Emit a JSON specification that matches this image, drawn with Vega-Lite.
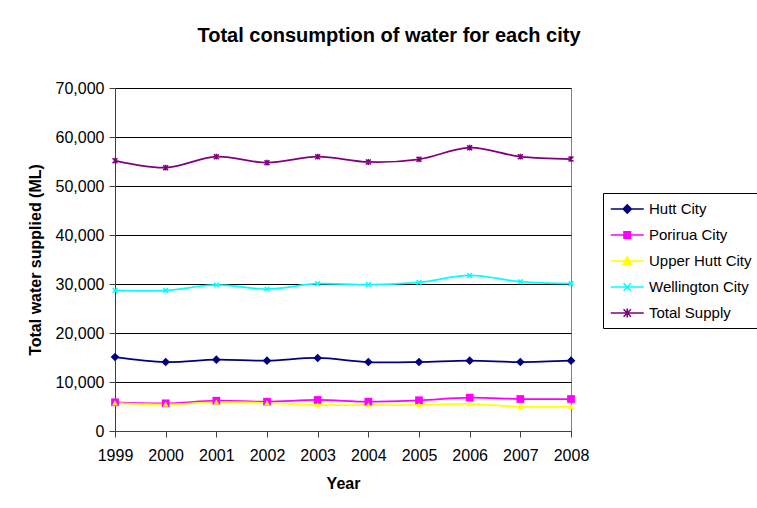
{
  "$schema": "https://vega.github.io/schema/vega-lite/v6.json",
  "width": 456,
  "height": 343,
  "autosize": {"type": "none"},
  "padding": {"left": 115, "top": 88, "right": 186, "bottom": 77},
  "background": "white",
  "title": {
    "text": "Total consumption of water for each city",
    "font": "Liberation Sans",
    "fontSize": 20,
    "fontWeight": "bold",
    "color": "black",
    "anchor": "middle",
    "baseline": "alphabetic",
    "dx": 46,
    "offset": 18
  },
  "config": {
    "font": "Liberation Sans",
    "view": {"stroke": "#808080", "strokeWidth": 1},
    "axis": {
      "labelFont": "Liberation Sans",
      "labelFontSize": 16,
      "labelColor": "black",
      "titleFont": "Liberation Sans",
      "titleFontSize": 16,
      "titleFontWeight": "bold",
      "titleColor": "black",
      "domainColor": "#404040",
      "tickColor": "#404040",
      "tickSize": 6
    }
  },
  "data": {
    "values": [
      {"year": "1999", "series": "Hutt City", "value": 15100},
      {"year": "2000", "series": "Hutt City", "value": 14080},
      {"year": "2001", "series": "Hutt City", "value": 14550},
      {"year": "2002", "series": "Hutt City", "value": 14350},
      {"year": "2003", "series": "Hutt City", "value": 14900},
      {"year": "2004", "series": "Hutt City", "value": 14080},
      {"year": "2005", "series": "Hutt City", "value": 14080},
      {"year": "2006", "series": "Hutt City", "value": 14350},
      {"year": "2007", "series": "Hutt City", "value": 14080},
      {"year": "2008", "series": "Hutt City", "value": 14350},
      {"year": "1999", "series": "Porirua City", "value": 5860},
      {"year": "2000", "series": "Porirua City", "value": 5650},
      {"year": "2001", "series": "Porirua City", "value": 6180},
      {"year": "2002", "series": "Porirua City", "value": 5980},
      {"year": "2003", "series": "Porirua City", "value": 6330},
      {"year": "2004", "series": "Porirua City", "value": 5980},
      {"year": "2005", "series": "Porirua City", "value": 6270},
      {"year": "2006", "series": "Porirua City", "value": 6800},
      {"year": "2007", "series": "Porirua City", "value": 6530},
      {"year": "2008", "series": "Porirua City", "value": 6530},
      {"year": "1999", "series": "Upper Hutt City", "value": 5710},
      {"year": "2000", "series": "Upper Hutt City", "value": 5450},
      {"year": "2001", "series": "Upper Hutt City", "value": 5860},
      {"year": "2002", "series": "Upper Hutt City", "value": 5710},
      {"year": "2003", "series": "Upper Hutt City", "value": 5310},
      {"year": "2004", "series": "Upper Hutt City", "value": 5310},
      {"year": "2005", "series": "Upper Hutt City", "value": 5310},
      {"year": "2006", "series": "Upper Hutt City", "value": 5510},
      {"year": "2007", "series": "Upper Hutt City", "value": 4960},
      {"year": "2008", "series": "Upper Hutt City", "value": 4960},
      {"year": "1999", "series": "Wellington City", "value": 28690},
      {"year": "2000", "series": "Wellington City", "value": 28690},
      {"year": "2001", "series": "Wellington City", "value": 29800},
      {"year": "2002", "series": "Wellington City", "value": 28980},
      {"year": "2003", "series": "Wellington City", "value": 30060},
      {"year": "2004", "series": "Wellington City", "value": 29860},
      {"year": "2005", "series": "Wellington City", "value": 30330},
      {"year": "2006", "series": "Wellington City", "value": 31760},
      {"year": "2007", "series": "Wellington City", "value": 30470},
      {"year": "2008", "series": "Wellington City", "value": 30060},
      {"year": "1999", "series": "Total Supply", "value": 55160},
      {"year": "2000", "series": "Total Supply", "value": 53740},
      {"year": "2001", "series": "Total Supply", "value": 55980},
      {"year": "2002", "series": "Total Supply", "value": 54760},
      {"year": "2003", "series": "Total Supply", "value": 55980},
      {"year": "2004", "series": "Total Supply", "value": 54900},
      {"year": "2005", "series": "Total Supply", "value": 55450},
      {"year": "2006", "series": "Total Supply", "value": 57820},
      {"year": "2007", "series": "Total Supply", "value": 55980},
      {"year": "2008", "series": "Total Supply", "value": 55510}
    ]
  },
  "encoding": {
    "x": {
      "field": "year",
      "type": "ordinal",
      "scale": {"type": "point", "padding": 0},
      "axis": {"title": "Year", "labelAngle": 0, "labelPadding": 10, "titlePadding": 12, "grid": false}
    },
    "y": {
      "field": "value",
      "type": "quantitative",
      "scale": {"domain": [0, 70000], "nice": false},
      "axis": {
        "title": "Total water supplied (ML)",
        "format": ",.0f",
        "values": [0, 10000, 20000, 30000, 40000, 50000, 60000, 70000],
        "grid": true,
        "gridColor": "black",
        "gridOpacity": 1,
        "labelPadding": 5,
        "titlePadding": 12
      }
    }
  },
  "layer": [
    {
      "mark": {"type": "line", "interpolate": "catmull-rom", "strokeWidth": 1.75},
      "encoding": {
        "color": {
          "field": "series",
          "type": "nominal",
          "scale": {
            "domain": ["Hutt City", "Porirua City", "Upper Hutt City", "Wellington City", "Total Supply"],
            "range": ["#000080", "#FF00FF", "#FFFF00", "#00FFFF", "#800080"]
          },
          "legend": {
            "title": null,
            "orient": "none",
            "legendX": 488,
            "legendY": 105,
            "strokeColor": "black",
            "padding": 7,
            "labelFont": "Liberation Sans",
            "labelFontSize": 15,
            "labelColor": "black",
            "labelOffset": 21,
            "rowPadding": 9,
            "symbolSize": 272,
            "symbolStrokeWidth": 1.5,
            "symbolType": "M-1,0H3",
            "encode": {
              "symbols": {
                "update": {
                  "shape": {"signal": "datum.value == 'Hutt City' ? 'M-1,0H3M0.5,0L1,-0.5L1.5,0L1,0.5Z' : datum.value == 'Porirua City' ? 'M-1,0H3M0.6,-0.4H1.4V0.4H0.6Z' : datum.value == 'Upper Hutt City' ? 'M-1,0H3M0.5,0.4L1,-0.5L1.5,0.4Z' : datum.value == 'Wellington City' ? 'M-1,0H3M0.55,-0.45L1.45,0.45M0.55,0.45L1.45,-0.45' : 'M-1,0H3M0.55,-0.45L1.45,0.45M0.55,0.45L1.45,-0.45M1,-0.55V0.55'"},
                  "fill": {"scale": "color", "field": "value"},
                  "stroke": {"scale": "color", "field": "value"},
                  "strokeWidth": {"value": 1.5},
                  "opacity": {"value": 1}
                }
              }
            }
          }
        }
      }
    },
    {
      "transform": [{"filter": "datum.series == 'Hutt City'"}],
      "mark": {"type": "point", "shape": "diamond", "filled": true, "opacity": 1, "size": 75, "color": "#000080"}
    },
    {
      "transform": [{"filter": "datum.series == 'Porirua City'"}],
      "mark": {"type": "point", "shape": "square", "filled": true, "opacity": 1, "size": 60, "color": "#FF00FF"}
    },
    {
      "transform": [{"filter": "datum.series == 'Upper Hutt City'"}],
      "mark": {"type": "point", "shape": "M-0.6,0.5L0,-0.6L0.6,0.5Z", "filled": true, "opacity": 1, "size": 90, "color": "#FFFF00"}
    },
    {
      "transform": [{"filter": "datum.series == 'Wellington City'"}],
      "mark": {"type": "point", "shape": "M-0.55,-0.55L0.55,0.55M-0.55,0.55L0.55,-0.55", "filled": false, "opacity": 1, "size": 70, "strokeWidth": 1.5, "color": "#00FFFF"}
    },
    {
      "transform": [{"filter": "datum.series == 'Total Supply'"}],
      "mark": {"type": "point", "shape": "M-0.55,-0.55L0.55,0.55M-0.55,0.55L0.55,-0.55M0,-0.65V0.65", "filled": false, "opacity": 1, "size": 80, "strokeWidth": 1.5, "color": "#800080"}
    }
  ]
}
